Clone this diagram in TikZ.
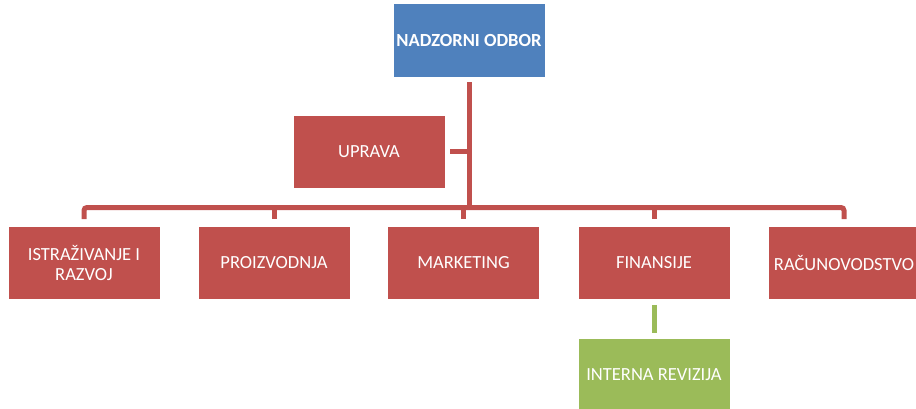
\documentclass[tikz,border=0pt]{standalone}
\usepackage{fontspec}
\setmainfont{Carlito}
\definecolor{boxblue}{HTML}{4F81BD}
\definecolor{boxred}{HTML}{C0504D}
\definecolor{boxgreen}{HTML}{9BBB59}
\begin{document}
\begin{tikzpicture}[x=1pt,y=-1pt,
  box/.style={rectangle, draw=white, line width=0.6pt, minimum width=152pt, inner sep=2pt,
    text=white, align=center, font=\fontsize{18.5}{20.5}\selectfont},
  redbox/.style={box, fill=boxred, minimum height=73pt},
  conn/.style={draw=boxred, line width=5pt},
  gconn/.style={draw=boxgreen, line width=5pt}]
\useasboundingbox (0,0) rectangle (916,409);
\node[box, fill=boxblue, minimum height=74pt, font=\fontsize{18.5}{20.5}\selectfont\bfseries] (top) at (469,40) {NADZORNI ODBOR};
\node[redbox] (uprava) at (369,151.5) {UPRAVA};
\node[redbox] (n1) at (84,263) {ISTRAŽIVANJE I\\RAZVOJ};
\node[redbox] (n2) at (274,263) {PROIZVODNJA};
\node[redbox] (n3) at (463.5,263) {MARKETING};
\node[redbox] (n4) at (654,263) {FINANSIJE};
\node[redbox] (n5) at (844,263) {RAČUNOVODSTVO};
\node[box, fill=boxgreen, minimum height=73pt] (rev) at (654,374.5) {INTERNA REVIZIJA};
\coordinate (bus) at (469,207.5);
\coordinate (trunktop) at ([yshift=-5pt]top.south);
\draw[conn] (trunktop) -- (bus);
\draw[conn] ([xshift=5pt]uprava.east) -- (uprava.east -| bus);
\draw[conn, rounded corners=3pt] ([yshift=7pt]n1.north) -- (n1.north |- bus) -- (n5.north |- bus) -- ([yshift=7pt]n5.north);
\draw[conn] (n2.north |- bus) -- ([yshift=7pt]n2.north);
\draw[conn] (n3.north |- bus) -- ([yshift=7pt]n3.north);
\draw[conn] (n4.north |- bus) -- ([yshift=7pt]n4.north);
\draw[gconn] ([yshift=-5pt]n4.south) -- ([yshift=5pt]rev.north);
\end{tikzpicture}
\end{document}
